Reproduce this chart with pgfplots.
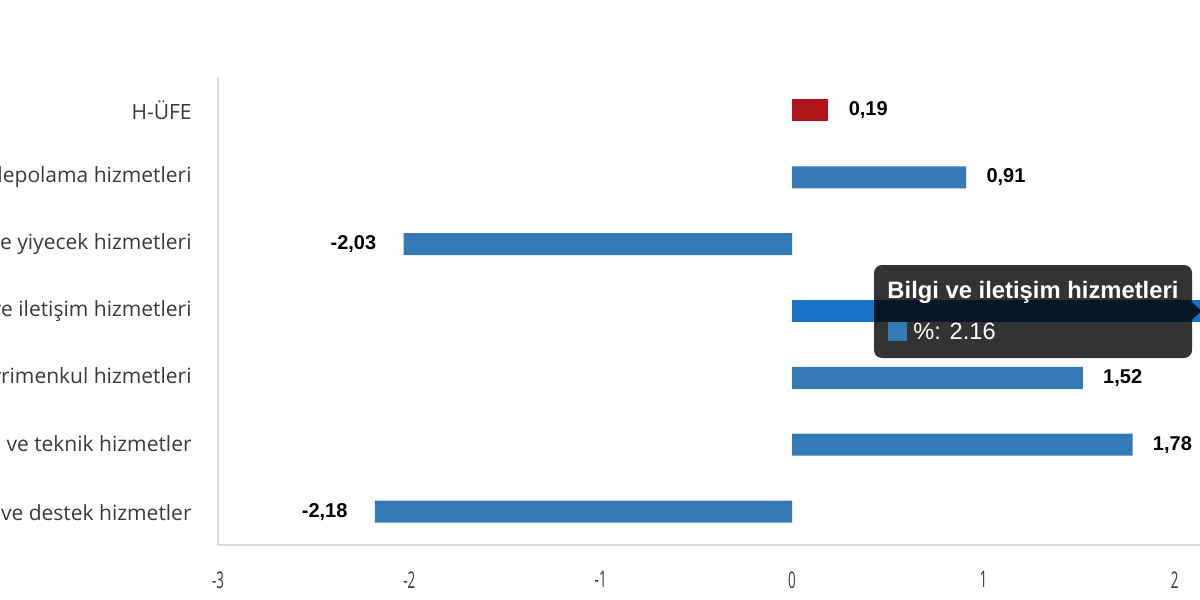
\documentclass[border=0pt]{standalone}
\usepackage{fontspec}
\setmainfont{Open Sans}
\newfontfamily\valfont{Liberation Sans}
\usepackage{pgfplots}
\pgfplotsset{compat=1.18}
\definecolor{barblue}{HTML}{337AB7}
\definecolor{barhi}{HTML}{1673C5}
\definecolor{barred}{HTML}{B0151C}
\definecolor{lblgray}{HTML}{3A3A3A}
\definecolor{axgray}{HTML}{DCDCDC}
\newcommand{\nl}[1]{\scalebox{0.58}[1]{#1}}
\begin{document}
\begin{tikzpicture}
\useasboundingbox (0,0) rectangle (600pt,300pt);
\clip (0,0) rectangle (600pt,300pt);
\begin{axis}[
  at={(109pt,27.5pt)}, anchor=south west,
  scale only axis, width=574pt, height=234pt,
  xmin=-3, xmax=3, ymin=-0.5, ymax=6.5,
  xbar, bar width=11pt, bar shift=0pt,
  axis lines=left,
  axis line style={-, draw=axgray, line width=0.6pt},
  major tick length=0pt,
  xtick={-3,-2,-1,0,1,2,3},
  xticklabels={\nl{-3},\nl{-2},\nl{-1},\nl{0},\nl{1},\nl{2},\nl{3}},
  xticklabel style={text=lblgray, font=\fontsize{11.5}{13}\selectfont, anchor=north, inner sep=0pt, yshift=-13pt},
  ytick={0,1,2,3,4,5,6},
  yticklabels={İdari ve destek hizmetler, {Mesleki, bilimsel ve teknik hizmetler}, Gayrimenkul hizmetleri, Bilgi ve iletişim hizmetleri, Konaklama ve yiyecek hizmetleri, Ulaştırma ve depolama hizmetleri, H-ÜFE},
  yticklabel style={text=lblgray, font=\fontsize{10.5}{12}\selectfont, anchor=east, inner sep=0pt, xshift=-13pt},
  nodes near coords={\pgfmathprintnumber[fixed,fixed zerofill,precision=2,use comma,assume math mode=true]{\pgfplotspointmeta}},
  every node near coord/.append style={font=\valfont\bfseries\fontsize{10}{12}\selectfont, text=black, inner sep=0pt},
  clip=true,
]
\addplot[fill=barblue, draw=none, nodes near coords style={xshift=10pt}] coordinates {(0.91,5) (1.52,2) (1.78,1)};
\addplot[fill=barblue, draw=none, nodes near coords style={xshift=-13.5pt}] coordinates {(-2.03,4) (-2.18,0)};
\addplot[fill=barhi, draw=none, nodes near coords style={xshift=10pt}] coordinates {(2.16,3)};
\addplot[fill=barred, draw=none, nodes near coords style={xshift=10pt}] coordinates {(0.19,6)};
% tooltip
\fill[black, fill opacity=0.8, rounded corners=4pt] (axis cs:0.4286,3.688) rectangle (axis cs:2.091,2.297);
\fill[black, fill opacity=0.8] (axis cs:2.091,3.13) -- (axis cs:2.14,3.0) -- (axis cs:2.091,2.87) -- cycle;
\node[anchor=base west, inner sep=0pt, text=white, font=\valfont\bfseries\fontsize{11.9}{13}\selectfont] at (axis cs:0.497,3.194) {Bilgi ve iletişim hizmetleri};
\node[anchor=base west, inner sep=0pt, text=white, font=\valfont\fontsize{11.8}{13}\selectfont] at (axis cs:0.502,2.581) {\textcolor{barblue}{\rule[-1pt]{9.5pt}{9.5pt}}\hspace{3pt}\%: 2.16};
\end{axis}
\end{tikzpicture}
\end{document}
